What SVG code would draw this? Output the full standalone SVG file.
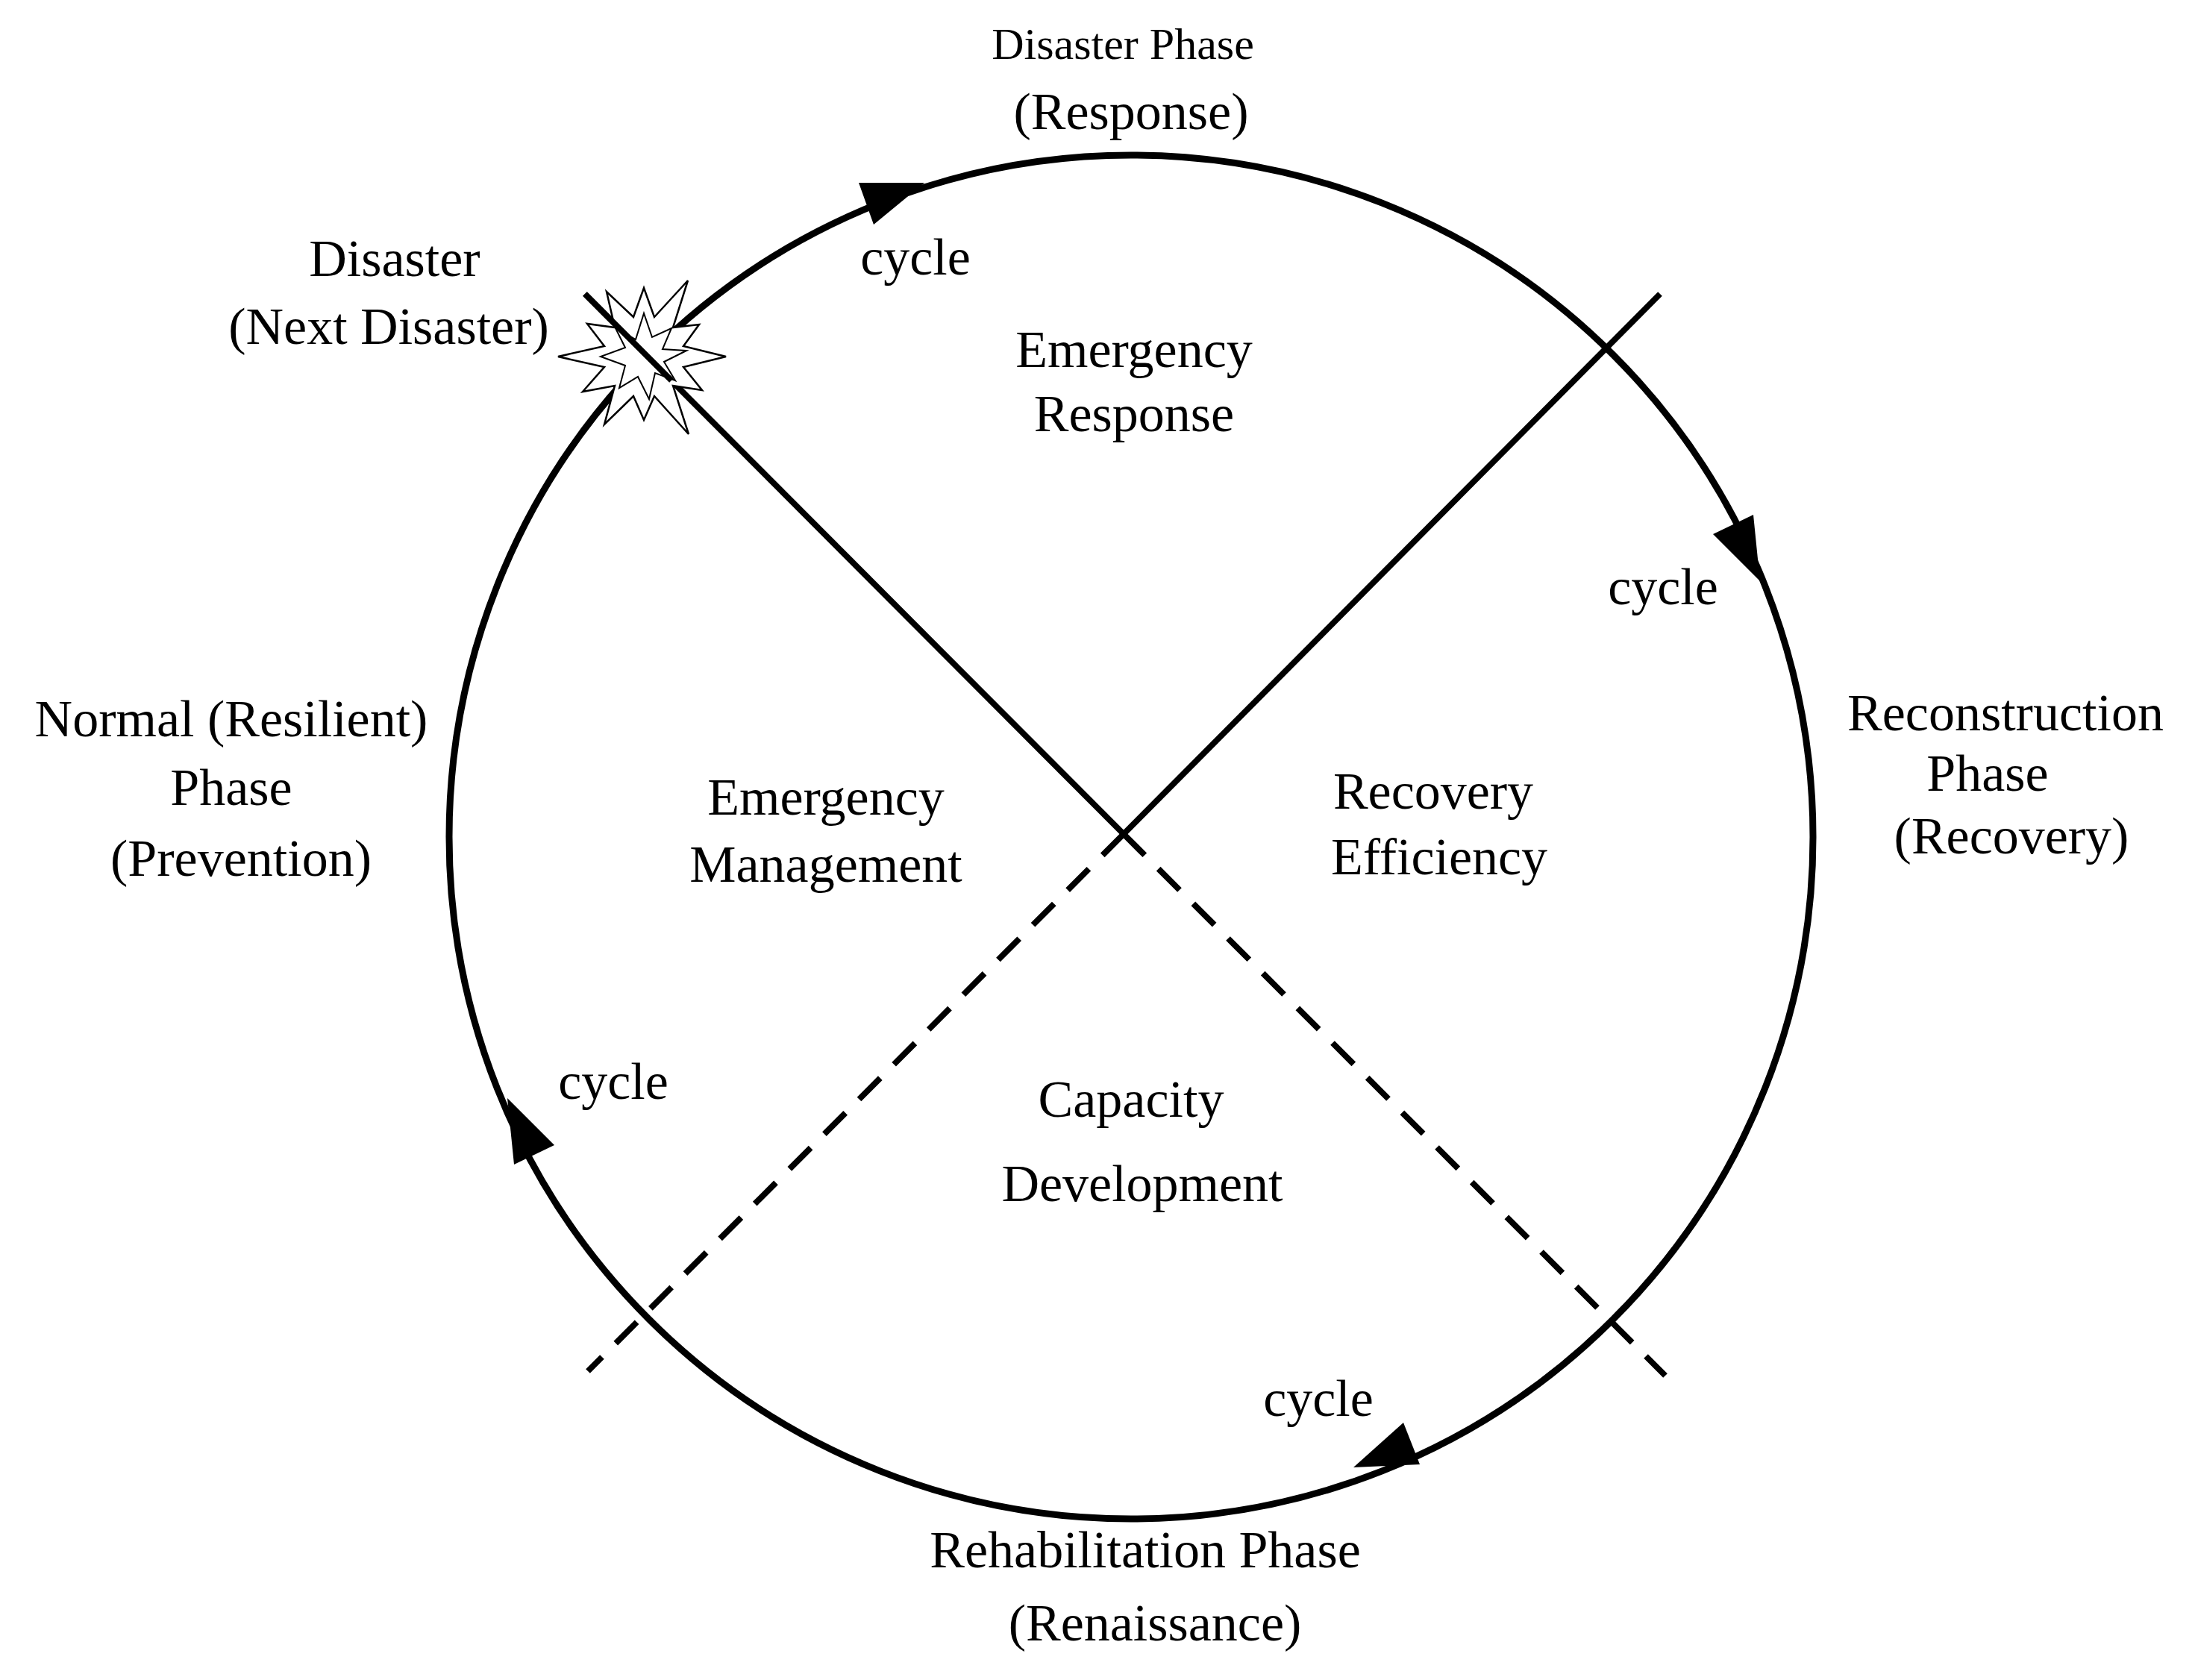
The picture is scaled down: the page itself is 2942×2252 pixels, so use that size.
<svg xmlns="http://www.w3.org/2000/svg" width="2942" height="2252" viewBox="0 0 2942 2252">
<style>
text{font-family:"Liberation Serif","Times New Roman",serif;font-size:70px;fill:#000;text-anchor:middle}
.s{font-size:60px}
.ln{stroke:#000;stroke-width:8;fill:none}
.d{stroke-dasharray:40 26}
.ah{fill:#000}
</style>
<rect width="2942" height="2252" fill="#fff"/>
<g id="connectors">
<circle cx="1516" cy="1122" r="914" fill="none" stroke="#000" stroke-width="9"/>
<line class="ln" x1="784" y1="394" x2="1506" y2="1118"/>
<line class="ln" x1="2225" y1="394" x2="1506" y2="1118"/>
<line class="ln d" x1="1506" y1="1118" x2="788" y2="1838"/>
<line class="ln d" x1="1506" y1="1118" x2="2232" y2="1844"/>
<polygon class="ah" points="1239,245 1171,301 1151,245"/>
<polygon class="ah" points="2359,779 2350,690 2296,716"/>
<polygon class="ah" points="1814,1967 1903,1963 1881,1907"/>
<polygon class="ah" points="680,1472 743,1535 689,1561"/>
</g>
<g id="burst">
<polygon fill="#fff" stroke="#000" stroke-width="2.5" points="973,478 916,492 941,523 902,517 923,582 877,531 863,563 849,531 810,569 824,517 781,525 810,492 748,478 810,464 787,434 824,439 813,391 849,425 863,386 877,425 922,376 902,439 937,435 916,464"/>
<polygon fill="none" stroke="#000" stroke-width="2" points="920,470 890,485 905,510 878,500 870,535 855,505 830,520 838,490 805,478 838,466 825,440 852,455 863,420 874,452 900,440 888,468"/>
<line class="ln" x1="784" y1="394" x2="900" y2="510"/>
</g>
<g id="labels">
<text class="s" x="1505" y="79">Disaster Phase</text>
<text x="1516" y="173">(Response)</text>
<text x="1227" y="368">cycle</text>
<text x="529" y="370">Disaster</text>
<text x="521" y="461">(Next Disaster)</text>
<text x="1520" y="492">Emergency</text>
<text x="1520" y="578">Response</text>
<text x="2229" y="810">cycle</text>
<text x="2688" y="979">Reconstruction</text>
<text x="2664" y="1060">Phase</text>
<text x="2696" y="1144">(Recovery)</text>
<text x="310" y="987">Normal (Resilient)</text>
<text x="310" y="1079">Phase</text>
<text x="323" y="1174">(Prevention)</text>
<text x="1107" y="1092">Emergency</text>
<text x="1107" y="1182">Management</text>
<text x="1921" y="1084">Recovery</text>
<text x="1929" y="1172">Efficiency</text>
<text x="822" y="1473">cycle</text>
<text x="1516" y="1497">Capacity</text>
<text x="1531" y="1610">Development</text>
<text x="1767" y="1898">cycle</text>
<text x="1535" y="2101">Rehabilitation Phase</text>
<text x="1548" y="2199">(Renaissance)</text>
</g>
</svg>
